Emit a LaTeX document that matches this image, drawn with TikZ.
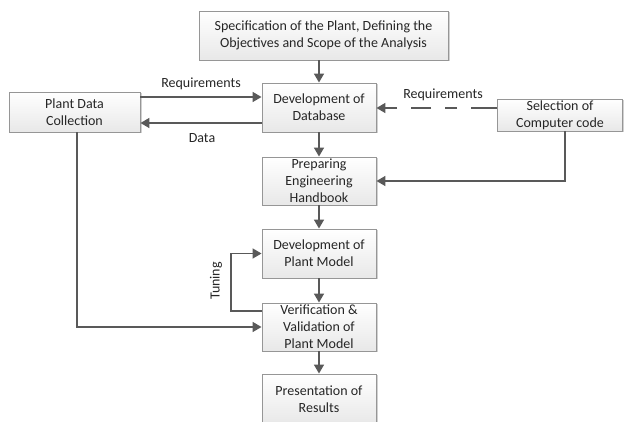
\documentclass[tikz,border=0pt]{standalone}
\usepackage{fontspec}
\setmainfont{Carlito}
\usetikzlibrary{arrows.meta,shadows,calc}
\definecolor{boxborder}{RGB}{150,150,150}
\definecolor{arrowc}{RGB}{89,89,89}
\definecolor{txt}{RGB}{38,38,38}
\begin{document}
\begin{tikzpicture}[x=1pt,y=-1pt,
  box/.style={draw=boxborder, line width=0.9pt, top color=white, bottom color=black!9,
    drop shadow={shadow xshift=1.5pt, shadow yshift=-1.5pt, fill=black, opacity=0.18},
    align=center, inner sep=0pt, text=txt, font=\fontsize{14}{17}\selectfont},
  conn/.style={draw=arrowc, line width=1.6pt},
  arr/.style={conn, -{Triangle[length=9pt,width=10pt]}},
  lbl/.style={text=txt, font=\fontsize{14}{17}\selectfont, inner sep=0pt}]
\useasboundingbox (0,0) rectangle (625,422);
\clip (0,0) rectangle (625,422);
\fill[white] (0,0) rectangle (625,422);

\node[box, minimum width=249pt, minimum height=49pt] (spec) at (323.5,35.5) {Specification of the Plant, Defining the\\Objectives and Scope of the Analysis};
\node[box, minimum width=114pt, minimum height=49pt] (db) at (319,107.5) {Development of\\Database};
\node[box, minimum width=114pt, minimum height=48pt] (hb) at (319,181) {Preparing\\Engineering\\Handbook};
\node[box, minimum width=114pt, minimum height=49pt] (pm) at (319,253.5) {Development of\\Plant Model};
\node[box, minimum width=114pt, minimum height=48pt] (vv) at (319,327) {Verification \&\\Validation of\\Plant Model};
\node[box, minimum width=114pt, minimum height=50pt] (pr) at (319,399) {Presentation of\\Results};
\node[box, minimum width=131pt, minimum height=40pt] (pdc) at (74.5,112) {Plant Data\\Collection};
\node[box, minimum width=125pt, minimum height=32pt] (scc) at (560,115) {Selection of\\Computer code};

\coordinate (c1) at (319,0);
\draw[arr] (spec.south -| c1) -- (db.north);
\draw[arr] (db) -- (hb);
\draw[arr] (hb) -- (pm);
\draw[arr] (pm) -- (vv);
\draw[arr] (vv) -- (pr);

\coordinate (yreq) at (0,97);
\coordinate (ydata) at (0,123);
\draw[arr] (pdc.east |- yreq) -- (db.west |- yreq);
\draw[arr] (db.west |- ydata) -- (pdc.east |- ydata);
\node[lbl] (lreq) at (201,84) {Requirements};
\node[lbl] (ldata) at (202,138) {Data};

\coordinate (ydash) at (0,108);
\draw[arr, dash pattern=on 26pt off 14pt on 12pt off 14pt on 20pt off 14pt on 30pt] (scc.west |- ydash) -- (db.east |- ydash);
\node[lbl] (lreq2) at (443,95) {Requirements};

\coordinate (sx) at (565,0);
\draw[arr] (scc.south -| sx) |- (hb.east);

\coordinate (px) at (77,0);
\draw[arr] (pdc.south -| px) |- (vv.west);

\coordinate (tx) at (231,0);
\coordinate (ty) at (0,311);
\draw[arr] (vv.west |- ty) -| (tx |- pm.west) -- (pm.west);
\node[lbl, rotate=90] (tun) at (216,281) {Tuning};
\end{tikzpicture}
\end{document}
